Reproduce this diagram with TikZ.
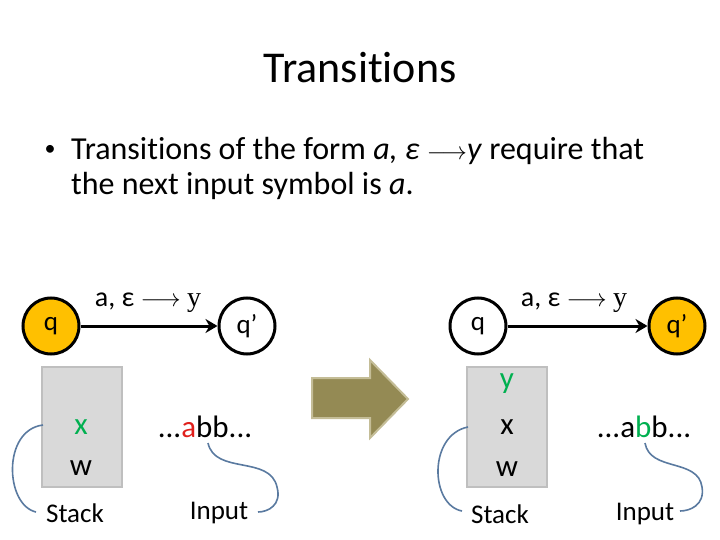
\documentclass[tikz,border=0pt]{standalone}
\usepackage{fontspec}
\setmainfont{Carlito}[Ligatures=NoCommon]
\usetikzlibrary{arrows.meta}
\definecolor{qorange}{HTML}{FFC000}
\definecolor{sgreen}{HTML}{00B050}
\definecolor{ired}{HTML}{E0201C}
\definecolor{boxfill}{HTML}{D9D9D9}
\definecolor{boxdraw}{HTML}{BFBFBF}
\definecolor{curvec}{HTML}{5A7AA0}
\definecolor{olive}{HTML}{948A54}
\definecolor{olivedraw}{HTML}{C4BD97}
\newcommand{\fs}[1]{\fontsize{#1}{#1}\selectfont}
\tikzset{
  statenode/.style={circle, draw=black, line width=3pt, minimum size=56pt, inner sep=0pt, font=\fs{27}},
  trans/.style={line width=3pt, -{Stealth[length=12pt,width=14pt]}},
  tlabel/.style={font=\fs{28}, inner sep=0pt},
  stackbox/.style={draw=boxdraw, fill=boxfill, line width=2pt, minimum width=80pt, minimum height=120pt, inner sep=0pt},
  sym/.style={font=\fs{31}, inner sep=0pt},
  captxt/.style={font=\fs{27}, inner sep=0pt},
  pointer/.style={draw=curvec, line width=1.6pt}
}
\begin{document}
\begin{tikzpicture}[x=1pt,y=-1pt]
\useasboundingbox (0,0) rectangle (720,540);
% title
\node[font=\fs{44}, inner sep=0pt] (title) at (360,68) {Transitions};
% bullet
\node[font=\fs{32}, inner sep=0pt, anchor=base west] (l1) at (71,160)
  {Transitions of the form \textit{a, ε} $\longrightarrow$\textit{y} require that};
\node[font=\fs{32}, inner sep=0pt, anchor=base west] (l2) at (71,195)
  {the next input symbol is \textit{a}.};
\node[font=\fs{22}, inner sep=0pt] (bul) at (50,150) {•};

% left diagram
\node[statenode, fill=qorange] (q1) at (51,326) {q};
\node[statenode] (p1) at (247,326) {q’};
\draw[trans] (q1) -- (p1);
\node[tlabel] (lab1) at (148,303) {a, ε $\longrightarrow$ \textrm{\fontspec{Liberation Serif}y}};
\node[stackbox] (s1) at (82,427) {};
\node[sym, text=sgreen] (x1) at (81,427) {x};
\node[sym] (w1) at (81,468) {w};
\node[captxt] (st1) at (75,513) {Stack};
\node[sym] (in1) at (205,427) {...\textcolor{ired}{a}bb...};
\node[captxt] (ip1) at (219,513) {Input};
\coordinate (c1) at (43,425);
\coordinate (c2) at (36,512);
\draw[pointer] (c1) .. controls (2,430) and (5,505) .. (c2);
\coordinate (c3) at (208,443);
\coordinate (c4) at (258,512);
\draw[pointer] (c3) .. controls (215,475) and (270,455) .. (277,487)
  .. controls (282,505) and (268,512) .. (c4);

% big arrow
\draw[fill=olive, draw=olivedraw, line width=2pt, line join=miter]
  (312,378) -- (370,378) -- (370,360) -- (408,399) -- (370,438) -- (370,418) -- (312,418) -- cycle;

% right diagram
\node[statenode] (q2) at (478,326) {q};
\node[statenode, fill=qorange] (p2) at (677,326) {q’};
\draw[trans] (q2) -- (p2);
\node[tlabel] (lab2) at (574,303) {a, ε $\longrightarrow$ \textrm{\fontspec{Liberation Serif}y}};
\node[stackbox] (s2) at (507,427) {};
\node[sym, text=sgreen] (y2) at (507,384) {y};
\node[sym] (x2) at (507,427) {x};
\node[sym] (w2) at (507,469) {w};
\node[captxt] (st2) at (500,514) {Stack};
\node[sym] (in2) at (644,427) {...a\textcolor{sgreen}{b}b...};
\node[captxt] (ip2) at (645,514) {Input};
\coordinate (d1) at (468,427);
\coordinate (d2) at (462,511);
\draw[pointer] (d1) .. controls (428,435) and (430,505) .. (d2);
\coordinate (d3) at (645,443);
\coordinate (d4) at (680,511);
\draw[pointer] (d3) .. controls (650,472) and (698,458) .. (702,487)
  .. controls (705,505) and (690,511) .. (d4);
\end{tikzpicture}
\end{document}
